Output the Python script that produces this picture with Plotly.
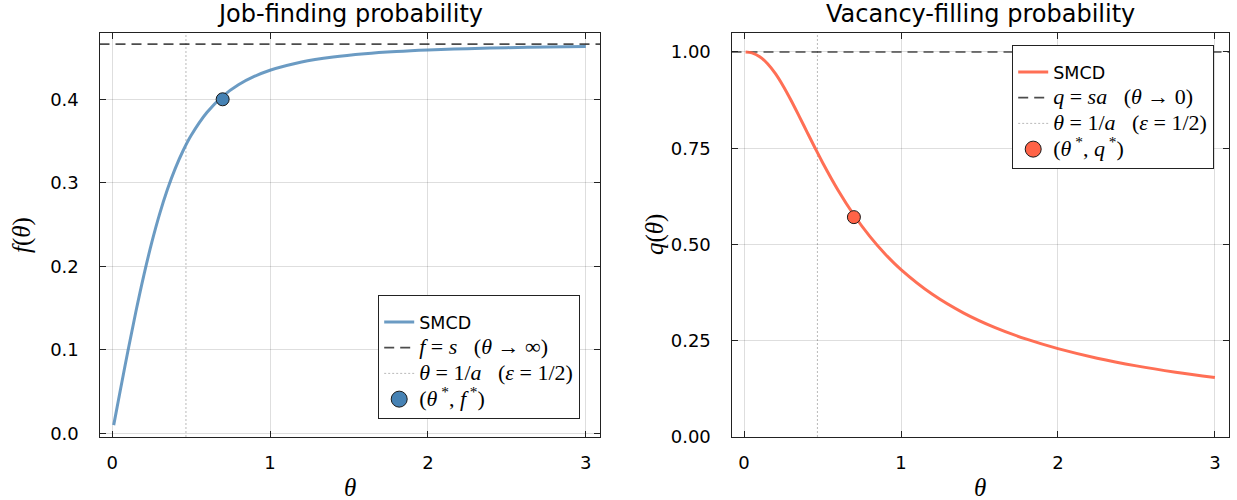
import plotly.graph_objects as go

# ---------------- data ----------------
theta = [0.01, 0.05, 0.10, 0.15, 0.20, 0.25, 0.30, 0.35, 0.40, 0.45, 0.50,
         0.60, 0.70, 0.80, 0.90, 1.00, 1.20, 1.40, 1.60, 1.80, 2.00, 2.25,
         2.50, 2.75, 3.00]
f_smcd = [0.0100, 0.0499, 0.0988, 0.1454, 0.1887, 0.2278, 0.2622, 0.2919,
          0.3173, 0.3387, 0.3566, 0.3842, 0.4036, 0.4174, 0.4273, 0.4348,
          0.4447, 0.4507, 0.4546, 0.4572, 0.4590, 0.4606, 0.4618, 0.4626,
          0.4632]
q_smcd = [1.0000, 0.9975, 0.9876, 0.9695, 0.9436, 0.9111, 0.8740, 0.8341,
          0.7932, 0.7526, 0.7131, 0.6403, 0.5765, 0.5217, 0.4748, 0.4348,
          0.3706, 0.3219, 0.2841, 0.2540, 0.2295, 0.2047, 0.1847, 0.1682,
          0.1544]
f_limit = 0.466          # f = s  (theta -> inf)
q_limit = 1.0            # q = s a (theta -> 0)
theta_half = 0.4675      # theta = 1/a
theta_star = [0.7]
f_star = [0.4]
q_star = [0.571]

x_ticks = [0, 1, 2, 3]
x_ticklabels = ["0", "1", "2", "3"]
f_ticks = [0.0, 0.1, 0.2, 0.3, 0.4]
f_ticklabels = ["0.0", "0.1", "0.2", "0.3", "0.4"]
q_ticks = [0.0, 0.25, 0.5, 0.75, 1.0]
q_ticklabels = ["0.00", "0.25", "0.50", "0.75", "1.00"]

# ---------------- style ----------------
W, H = 1237, 500
SANS = "DejaVu Sans"
SERIF = "Liberation Serif"
BLUE_LINE = "rgba(70,130,180,0.8)"
BLUE = "rgb(70,130,180)"
RED_LINE = "rgba(255,99,71,0.92)"
RED = "rgb(255,99,71)"
DASH_COL = "rgba(0,0,0,0.7)"
DOT_COL = "rgba(0,0,0,0.28)"
GRID = "rgba(0,0,0,0.13)"
DASH = "10px,6px"
DOT = "2px,2px"


def m(txt):
    return f'<span style="font-family:{SERIF};font-size:22px">{txt}</span>'


SP = "&nbsp;&nbsp;&nbsp;"
fig = go.Figure()


def panel(xa, ya, leg, xs, ys, line_col, mk_col, dash_label, px, py, star_label):
    fig.add_trace(go.Scatter(x=xs, y=ys, mode="lines", name="SMCD",
                             line=dict(color=line_col, width=3, shape="spline"),
                             xaxis=xa, yaxis=ya, legend=leg))
    fig.add_trace(go.Scatter(x=[None], y=[None], mode="lines", name=m(dash_label),
                             line=dict(color=DASH_COL, width=1.6, dash=DASH),
                             xaxis=xa, yaxis=ya, legend=leg))
    fig.add_trace(go.Scatter(x=[None], y=[None], mode="lines",
                             name=m(f"<i>θ</i> = 1/<i>a</i>{SP}(<i>ε</i> = 1/2)"),
                             line=dict(color=DOT_COL, width=1, dash=DOT),
                             xaxis=xa, yaxis=ya, legend=leg))
    # legend entry for the star point (larger symbol, as in the reference legend)
    fig.add_trace(go.Scatter(x=[None], y=[None], mode="markers", name=m(star_label),
                             marker=dict(color=mk_col, size=16, line=dict(color="#1a1a1a", width=1)),
                             xaxis=xa, yaxis=ya, legend=leg))
    fig.add_trace(go.Scatter(x=px, y=py, mode="markers", showlegend=False,
                             marker=dict(color=mk_col, size=13, line=dict(color="#1a1a1a", width=1)),
                             xaxis=xa, yaxis=ya))


panel("x", "y", "legend", theta, f_smcd, BLUE_LINE, BLUE,
      f"<i>f</i> = <i>s</i>{SP}(<i>θ</i> → ∞)", theta_star, f_star,
      "(<i>θ</i><sup> *</sup>, <i>f</i><sup> *</sup>)")
panel("x2", "y2", "legend2", theta, q_smcd, RED_LINE, RED,
      f"<i>q</i> = <i>sa</i>{SP}(<i>θ</i> → 0)", theta_star, q_star,
      "(<i>θ</i><sup> *</sup>, <i>q</i><sup> *</sup>)")

# reference lines
shapes = [
    dict(type="line", xref="x domain", x0=0, x1=1, yref="y", y0=f_limit, y1=f_limit,
         line=dict(color=DASH_COL, width=1.6, dash=DASH), layer="below"),
    dict(type="line", xref="x", x0=theta_half, x1=theta_half, yref="y domain", y0=0, y1=1,
         line=dict(color=DOT_COL, width=1, dash=DOT), layer="below"),
    dict(type="line", xref="x2 domain", x0=0, x1=1, yref="y2", y0=q_limit, y1=q_limit,
         line=dict(color=DASH_COL, width=1.6, dash=DASH), layer="below"),
    dict(type="line", xref="x2", x0=theta_half, x1=theta_half, yref="y2 domain", y0=0, y1=1,
         line=dict(color=DOT_COL, width=1, dash=DOT), layer="below"),
]

# layout geometry (pixels -> paper)
L1, R1 = 99.5, 600.0
L2, R2 = 731.5, 1229.0
TOP, BOT = 32.7, 437.0
ydom = [1 - BOT / H, 1 - TOP / H]

axis_common = dict(showgrid=True, gridcolor=GRID, gridwidth=1, zeroline=False,
                   showline=True, linecolor="#222", linewidth=1.2, mirror="allticks",
                   ticks="inside", ticklen=6, tickwidth=1.2, tickcolor="#222",
                   tickfont=dict(family=SANS, size=18, color="black"), automargin=False)
xstand = dict(ticklabelstandoff=9)
ystand = dict(ticklabelstandoff=16)

legend_common = dict(xanchor="left", yanchor="top",
                     bgcolor="white", bordercolor="#222", borderwidth=1.2,
                     font=dict(family=SANS, size=17.5, color="black"),
                     tracegroupgap=0,
                     title=dict(text=" ", font=dict(size=6)))

fig.update_layout(
    width=W, height=H, autosize=False, margin=dict(l=0, r=0, t=0, b=0),
    paper_bgcolor="white", plot_bgcolor="white",
    xaxis=dict(domain=[L1 / W, R1 / W], range=[-0.08, 3.09], tickvals=x_ticks,
               ticktext=x_ticklabels, anchor="y", **axis_common, **xstand),
    yaxis=dict(domain=ydom, range=[-0.0042, 0.4797], tickvals=f_ticks,
               ticktext=f_ticklabels, anchor="x", **axis_common, **ystand),
    xaxis2=dict(domain=[L2 / W, R2 / W], range=[-0.08, 3.09], tickvals=x_ticks,
                ticktext=x_ticklabels, anchor="y2", **axis_common, **xstand),
    yaxis2=dict(domain=ydom, range=[0, 1.05], tickvals=q_ticks,
                ticktext=q_ticklabels, anchor="x2", **axis_common, **ystand),
    shapes=shapes,
    legend=dict(x=378 / W, y=1 - 295 / H, **legend_common),
    legend2=dict(x=1012 / W, y=1 - 45 / H, **legend_common),
    showlegend=True,
)

ann = []
ann.append(dict(text="Job-finding probability", x=(L1 + R1) / 2 / W, y=1 - 14 / H,
                xref="paper", yref="paper", showarrow=False,
                font=dict(family=SANS, size=24, color="black"),
                xanchor="center", yanchor="middle"))
ann.append(dict(text="Vacancy-filling probability", x=(L2 + R2) / 2 / W, y=1 - 14 / H,
                xref="paper", yref="paper", showarrow=False,
                font=dict(family=SANS, size=24, color="black"),
                xanchor="center", yanchor="middle"))
for cx in [(L1 + R1) / 2, (L2 + R2) / 2]:
    ann.append(dict(text="<i>θ</i>", x=cx / W, y=1 - 487 / H, xref="paper", yref="paper",
                    showarrow=False, font=dict(family=SERIF, size=25, color="black"),
                    xanchor="center", yanchor="middle"))
ann.append(dict(text="<i>f</i>(<i>θ</i>)", x=22 / W, y=1 - 235 / H, xref="paper", yref="paper",
                showarrow=False, textangle=-90, font=dict(family=SERIF, size=25, color="black"),
                xanchor="center", yanchor="middle"))
ann.append(dict(text="<i>q</i>(<i>θ</i>)", x=655 / W, y=1 - 235 / H, xref="paper", yref="paper",
                showarrow=False, textangle=-90, font=dict(family=SERIF, size=25, color="black"),
                xanchor="center", yanchor="middle"))
fig.update_layout(annotations=ann)

fig.write_html(
    "out.html",
    config={"displayModeBar": False, "responsive": False},
    post_script="document.body.style.margin='0px';document.body.style.padding='0px';",
)
